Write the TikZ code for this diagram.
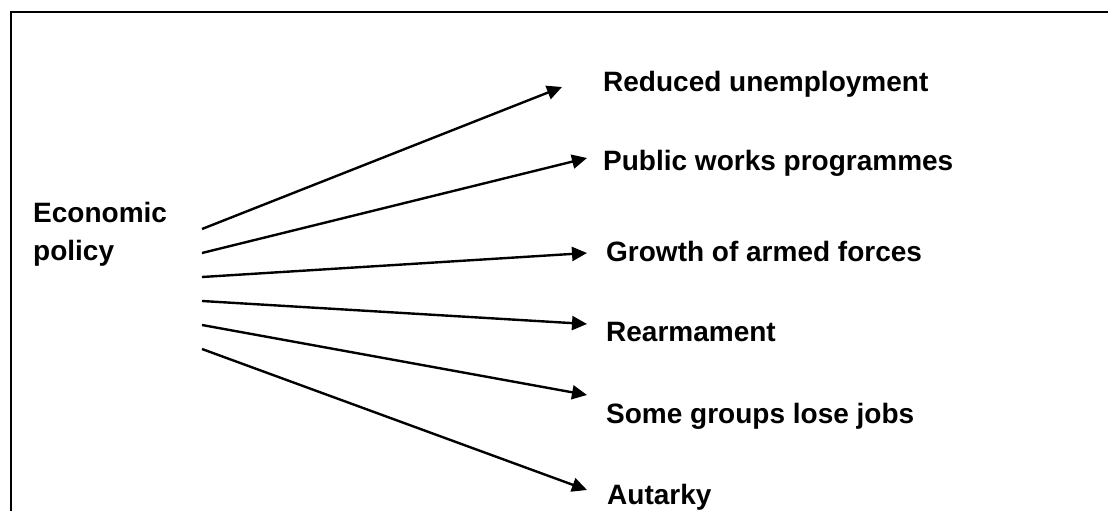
\documentclass[tikz,border=0pt]{standalone}
\usepackage{fontspec}
\setmainfont{Liberation Sans}
\usetikzlibrary{arrows.meta}
\begin{document}
\begin{tikzpicture}[x=1pt,y=-1pt,
  lbl/.style={anchor=base west, inner sep=0pt, font=\fontsize{28}{38}\selectfont\bfseries, align=left},
  arr/.style={line width=2.4pt, -{Triangle[length=15pt,width=14pt]}},
  frame/.style={line width=2.4pt}]
\useasboundingbox (0,0) rectangle (1108,511);
\draw[frame] (11,525) -- (11,12) -- (1120,12);
% source
\node[lbl] (src) at (33,260) {Economic\\policy};
% targets
\node[lbl] (t1) at (603,91) {Reduced unemployment};
\node[lbl] (t2) at (603,170) {Public works programmes};
\node[lbl] (t3) at (606,261) {Growth of armed forces};
\node[lbl] (t4) at (606,341) {Rearmament};
\node[lbl] (t5) at (606,423) {Some groups lose jobs};
\node[lbl] (t6) at (607,504) {Autarky};
% start points
\coordinate (s1) at (202,229);
\coordinate (s2) at (202,253);
\coordinate (s3) at (202,277);
\coordinate (s4) at (202,301);
\coordinate (s5) at (202,325);
\coordinate (s6) at (202,349);
% arrows
\draw[arr] (s1) -- ([shift={(-41,-4)}]t1.base west);
\draw[arr] (s2) -- ([shift={(-16,-12)}]t2.base west);
\draw[arr] (s3) -- ([shift={(-19,-8)}]t3.base west);
\draw[arr] (s4) -- ([shift={(-19,-17)}]t4.base west);
\draw[arr] (s5) -- ([shift={(-19,-28)}]t5.base west);
\draw[arr] (s6) -- ([shift={(-20,-14)}]t6.base west);
\end{tikzpicture}
\end{document}
